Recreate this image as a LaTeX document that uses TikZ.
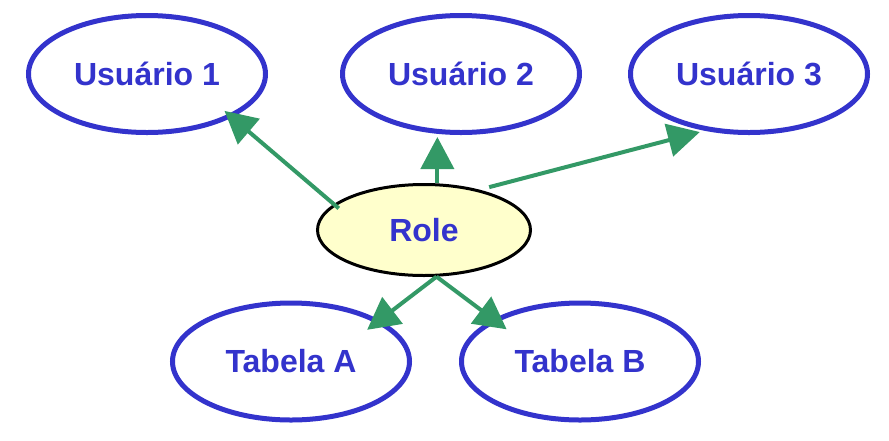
\documentclass[tikz,border=0pt]{standalone}
\usepackage{fontspec}
\setmainfont{Liberation Sans}
\usetikzlibrary{shapes.geometric,arrows.meta}
\definecolor{entblue}{HTML}{3333CC}
\definecolor{arrgreen}{HTML}{339966}
\definecolor{rolefill}{HTML}{FFFFCC}
\begin{document}
\begin{tikzpicture}[x=1pt,y=-1pt,
    entity/.style={ellipse,draw=entblue,line width=5pt,minimum width=237pt,minimum height=117pt,
        inner sep=0pt,text=entblue,font=\fontsize{32}{38}\selectfont\bfseries},
    rolebox/.style={entity,draw=black,line width=3pt,fill=rolefill,minimum width=213pt,minimum height=91pt},
    grant/.style={draw=arrgreen,line width=4pt,-{Triangle[length=32pt,width=33pt]}}]
    \useasboundingbox (0,0) rectangle (889,440);
    % users on top, tables below
    \node[entity] (usr1) at (147,74) {Usuário 1};
    \node[entity] (usr2) at (461,74) {Usuário 2};
    \node[entity] (usr3) at (749,74) {Usuário 3};
    \node[rolebox] (role) at (424,230) {Role};
    \node[entity] (taba) at (291,361.5) {Tabela A};
    \node[entity] (tabb) at (580,361.5) {Tabela B};
    % arrows out of the role
    \draw[grant,shorten <=-6.5pt,shorten >=-10pt] (role.164) -- (usr1.-27.5);
    \draw[grant,shorten >=2pt] (role.74.5) -- (role.74.5 |- usr2.south);
    \draw[grant,shorten <=10pt,shorten >=5pt] (role.36.7) -- (usr3.232.8);
    \draw[grant,shorten >=-16pt] (role.-75) -- (taba.25);
    \draw[grant,shorten >=-17pt] (role.-75) -- (tabb.154.4);
\end{tikzpicture}
\end{document}
